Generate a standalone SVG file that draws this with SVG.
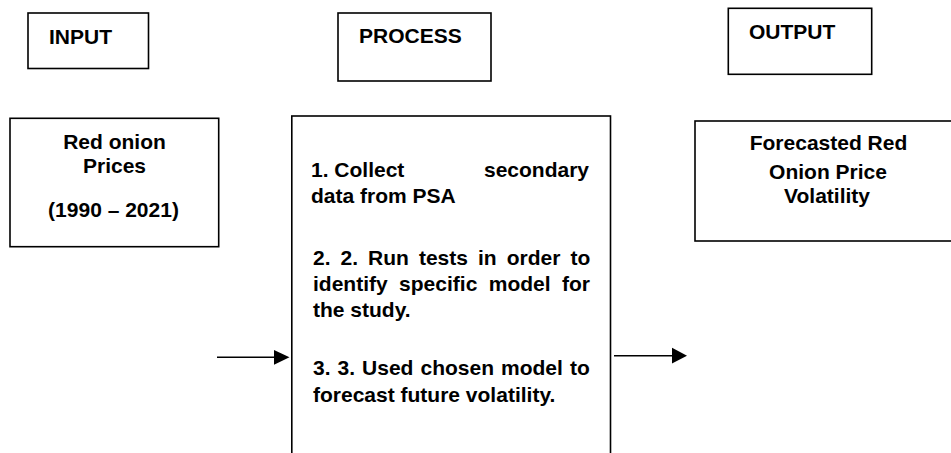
<svg xmlns="http://www.w3.org/2000/svg" width="951" height="453" viewBox="0 0 951 453">
  <style>
    .box { fill: #ffffff; stroke: #000000; stroke-width: 1.6; }
    .lbl { font-family: "Liberation Sans", Arial, sans-serif; font-weight: bold; font-size: 21px; fill: #000000; }
    .mid { text-anchor: middle; }
    .conn line { stroke: #000000; stroke-width: 1.6; }
    .conn polygon { fill: #000000; }
  </style>
  <rect width="951" height="453" fill="#ffffff"/>

  <!-- column headers -->
  <g id="hdr-input">
    <rect class="box" x="28" y="13" width="120.5" height="55.5"/>
    <text class="lbl" x="49" y="44">INPUT</text>
  </g>
  <g id="hdr-process">
    <rect class="box" x="338" y="13" width="153" height="68"/>
    <text class="lbl" x="359" y="43">PROCESS</text>
  </g>
  <g id="hdr-output">
    <rect class="box" x="728.3" y="8.3" width="143.4" height="66"/>
    <text class="lbl" x="749" y="39">OUTPUT</text>
  </g>

  <!-- input data -->
  <g id="input">
    <rect class="box" x="10" y="118.3" width="208.7" height="128.4"/>
    <text class="lbl mid" x="114.5" y="149">Red onion</text>
    <text class="lbl mid" x="114.5" y="173">Prices</text>
    <text class="lbl mid" x="113.5" y="217">(1990 – 2021)</text>
  </g>

  <!-- process steps, justified between x=312 and x=589 (box runs past the lower edge) -->
  <g id="process">
    <rect class="box" x="291.8" y="116" width="318.7" height="360"/>
    <text class="lbl" y="177"><tspan x="311">1. Collect</tspan><tspan x="484">secondary</tspan></text>
    <text class="lbl" x="311" y="203">data from PSA</text>
    <text class="lbl" x="313" y="265" style="word-spacing:4.2px">2. 2. Run tests in order to</text>
    <text class="lbl" x="313" y="291" style="word-spacing:5.6px">identify specific model for</text>
    <text class="lbl" x="313" y="317">the study.</text>
    <text class="lbl" x="313" y="375" style="word-spacing:1.2px">3. 3. Used chosen model to</text>
    <text class="lbl" x="313" y="402">forecast future volatility.</text>
  </g>

  <!-- output result (box runs past the right edge) -->
  <g id="output">
    <rect class="box" x="695" y="121" width="300" height="120"/>
    <text class="lbl mid" x="828.5" y="150">Forecasted Red</text>
    <text class="lbl mid" x="828" y="179">Onion Price</text>
    <text class="lbl mid" x="827" y="203">Volatility</text>
  </g>

  <!-- connectors -->
  <g id="connectors" class="conn">
    <line x1="217" y1="357.3" x2="276" y2="357.3"/>
    <polygon points="274,350 289.5,357.3 274,364.8"/>
    <line x1="614" y1="355.7" x2="673" y2="355.7"/>
    <polygon points="672,347.7 687,355.7 672,363.5"/>
  </g>
</svg>
